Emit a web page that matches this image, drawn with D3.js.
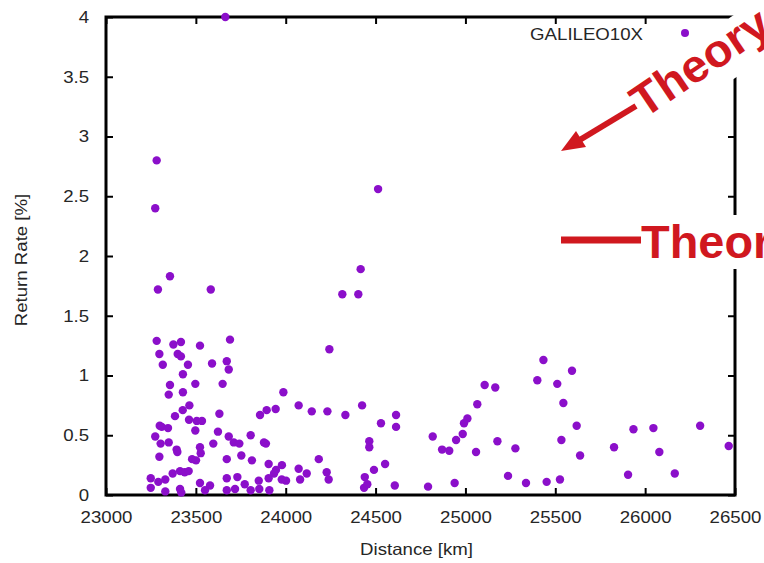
<!DOCTYPE html>
<html>
<head>
<meta charset="utf-8">
<script src="https://cdn.jsdelivr.net/npm/d3@7/dist/d3.min.js"></script>
<style>
  body { margin: 0; background: #fff; }
</style>
</head>
<body>
<script>

// dati: distanza [km] e tasso di ritorno [%]
const distance = [
  23282, 23274, 23356, 23664, 24514, 24417, 23289, 23583, 24315, 24404,
  23282, 23690, 23375, 23417, 23523, 23297, 23399, 23417, 24243, 23672,
  23316, 23456, 23590, 23683, 23428, 23356, 23497, 23649, 23349, 23428,
  23987, 23464, 23427, 23384, 23631, 23857, 23894, 23944, 24072, 24145,
  24232, 24332, 24425, 24530, 23462, 23505, 23534, 23299, 23310, 23345,
  23497, 23274, 23623, 23683, 23805, 23304, 23349, 23597, 23711, 23742,
  23879, 23890, 23393, 23397, 23523, 23527, 24465, 24465, 23297, 23479,
  23501, 23672, 23753, 23812, 24184, 23905, 23979, 23946, 23935, 23412,
  23438, 23460, 23371, 23330, 23249, 23291, 23249, 23523, 23579, 23551,
  23672, 23731, 23672, 23718, 23772, 23805, 23850, 23853, 23905, 23909,
  23978, 24002, 24072, 24080, 24117, 24228, 24239, 24440, 24436, 24454,
  24491, 23330, 23412, 23419, 24553, 24607, 24614, 24614,
  25434, 25593, 25400, 25107, 25166, 25511, 25066, 25545, 25011, 24992,
  25619, 25935, 26046, 26306, 24818, 24985, 24948, 25178, 25534, 24870,
  24910, 25278, 25059, 25638, 25827, 26079, 26465, 25237, 25905, 26165,
  25526, 25452, 25337, 24940, 24792
];

const returnRate = [
  2.80, 2.40, 1.83, 4.00, 2.56, 1.89, 1.72, 1.72, 1.68, 1.68,
  1.29, 1.30, 1.26, 1.28, 1.25, 1.18, 1.18, 1.16, 1.22, 1.12,
  1.09, 1.09, 1.10, 1.05, 1.01, 0.92, 0.93, 0.93, 0.84, 0.86,
  0.86, 0.75, 0.71, 0.66, 0.68, 0.67, 0.71, 0.72, 0.75, 0.70,
  0.70, 0.67, 0.75, 0.60, 0.63, 0.62, 0.62, 0.58, 0.57, 0.56,
  0.54, 0.49, 0.53, 0.49, 0.50, 0.43, 0.44, 0.43, 0.44, 0.43,
  0.44, 0.43, 0.38, 0.36, 0.40, 0.35, 0.45, 0.40, 0.32, 0.30,
  0.29, 0.30, 0.33, 0.29, 0.30, 0.26, 0.25, 0.21, 0.18, 0.20,
  0.19, 0.20, 0.18, 0.13, 0.14, 0.11, 0.06, 0.10, 0.08, 0.04,
  0.14, 0.15, 0.04, 0.05, 0.09, 0.04, 0.12, 0.05, 0.14, 0.04,
  0.13, 0.12, 0.22, 0.13, 0.18, 0.19, 0.13, 0.15, 0.06, 0.09,
  0.21, 0.03, 0.05, 0.02, 0.26, 0.08, 0.67, 0.57,
  1.13, 1.04, 0.96, 0.92, 0.90, 0.93, 0.76, 0.77, 0.64, 0.60,
  0.58, 0.55, 0.56, 0.58, 0.49, 0.51, 0.46, 0.45, 0.46, 0.38,
  0.37, 0.39, 0.36, 0.33, 0.40, 0.36, 0.41, 0.16, 0.17, 0.18,
  0.13, 0.11, 0.10, 0.10, 0.07
];

const xTicks = [23000, 23500, 24000, 24500, 25000, 25500, 26000, 26500];
const yTicks = [0, 0.5, 1, 1.5, 2, 2.5, 3, 3.5, 4];
const seriesName = "GALILEO10X";
const xTitle = "Distance [km]";
const yTitle = "Return Rate [%]";
const noteArrow = "Theory";
const noteLine = "Theory";

const width = 764;
const height = 563;
const plotLeft = 106, plotRight = 735, plotTop = 17, plotBottom = 495;

const font = "'Liberation Sans', Arial, sans-serif";
const textColor = "#262626";
const pointColor = "#8b0fca";
const red = "#d0181f";
const stretch = "scale(1.13,1)";

var svg = d3.select("body")
  .append("svg")
  .attr("width", width)
  .attr("height", height)
  .style("background-color", "#fff");

var x = d3.scaleLinear().domain([23000, 26500]).range([plotLeft, plotRight]);
var y = d3.scaleLinear().domain([0, 4]).range([plotBottom, plotTop]);

// assi stile gnuplot: tacche verso l'interno su tutti e quattro i lati
function styleAxis(g) {
  g.select(".domain").remove();
  g.selectAll(".tick line").attr("stroke", "#000").attr("stroke-width", 2);
  g.selectAll(".tick text").attr("fill", textColor).attr("transform", stretch);
  g.attr("font-family", font).attr("font-size", 16.5);
}

svg.append("g")
  .attr("transform", "translate(0," + plotBottom + ")")
  .call(d3.axisBottom(x).tickValues(xTicks).tickSize(-7).tickPadding(16).tickFormat(d => String(d)))
  .call(styleAxis);

svg.append("g")
  .attr("transform", "translate(0," + plotTop + ")")
  .call(d3.axisTop(x).tickValues(xTicks).tickSize(-7).tickFormat(""))
  .call(styleAxis);

svg.append("g")
  .attr("transform", "translate(" + plotLeft + ",0)")
  .call(d3.axisLeft(y).tickValues(yTicks).tickSize(-7).tickPadding(15).tickFormat(d => String(d)))
  .call(styleAxis);

svg.append("g")
  .attr("transform", "translate(" + plotRight + ",0)")
  .call(d3.axisRight(y).tickValues(yTicks).tickSize(-7).tickFormat(""))
  .call(styleAxis);

// cornice
svg.append("rect")
  .attr("x", plotLeft)
  .attr("y", plotTop)
  .attr("width", plotRight - plotLeft)
  .attr("height", plotBottom - plotTop)
  .attr("fill", "none")
  .attr("stroke", "#000")
  .attr("stroke-width", 3);

// titoli degli assi
svg.append("text")
  .attr("transform", "translate(" + ((plotLeft + plotRight) / 2 - 4) + ",555) " + stretch)
  .attr("text-anchor", "middle")
  .attr("font-family", font)
  .attr("font-size", 16.5)
  .attr("fill", textColor)
  .text(xTitle);

svg.append("text")
  .attr("transform", "translate(27,260) rotate(-90) " + stretch)
  .attr("text-anchor", "middle")
  .attr("font-family", font)
  .attr("font-size", 16.5)
  .attr("fill", textColor)
  .text(yTitle);

// punti
var points = distance.map((d, i) => ({ x: d, y: returnRate[i] }));

svg.append("g")
  .selectAll("circle")
  .data(points)
  .enter()
  .append("circle")
  .attr("cx", d => x(d.x))
  .attr("cy", d => y(d.y))
  .attr("r", 4.2)
  .attr("fill", pointColor);

// legenda
svg.append("text")
  .attr("transform", "translate(643,40) " + stretch)
  .attr("text-anchor", "end")
  .attr("font-family", font)
  .attr("font-size", 16.5)
  .attr("fill", textColor)
  .text(seriesName);

svg.append("circle")
  .attr("cx", 685)
  .attr("cy", 33)
  .attr("r", 4)
  .attr("fill", pointColor);

// annotazioni rosse sovrapposte (tagliate dal bordo destro come nell'originale)
var note1 = svg.append("g").attr("transform", "translate(644,119) rotate(-34)");

note1.append("rect")
  .attr("x", -6)
  .attr("y", -36)
  .attr("width", 240)
  .attr("height", 53)
  .attr("fill", "#fff");

note1.append("text")
  .attr("transform", "scale(1.02,1)")
  .attr("font-family", font)
  .attr("font-weight", "bold")
  .attr("font-size", 46)
  .attr("fill", red)
  .text(noteArrow);

svg.append("line")
  .attr("x1", 636)
  .attr("y1", 106)
  .attr("x2", 578)
  .attr("y2", 141)
  .attr("stroke", red)
  .attr("stroke-width", 6);

svg.append("path")
  .attr("d", "M561,151 L576,131 L586,147 Z")
  .attr("fill", red);

svg.append("rect")
  .attr("x", 640)
  .attr("y", 215)
  .attr("width", width - 640)
  .attr("height", 54)
  .attr("fill", "#fff");

svg.append("line")
  .attr("x1", 561)
  .attr("y1", 240)
  .attr("x2", 641)
  .attr("y2", 240)
  .attr("stroke", red)
  .attr("stroke-width", 7);

svg.append("text")
  .attr("transform", "translate(641,258) scale(1.02,1)")
  .attr("font-family", font)
  .attr("font-weight", "bold")
  .attr("font-size", 46)
  .attr("fill", red)
  .text(noteLine);

</script>
</body>
</html>
